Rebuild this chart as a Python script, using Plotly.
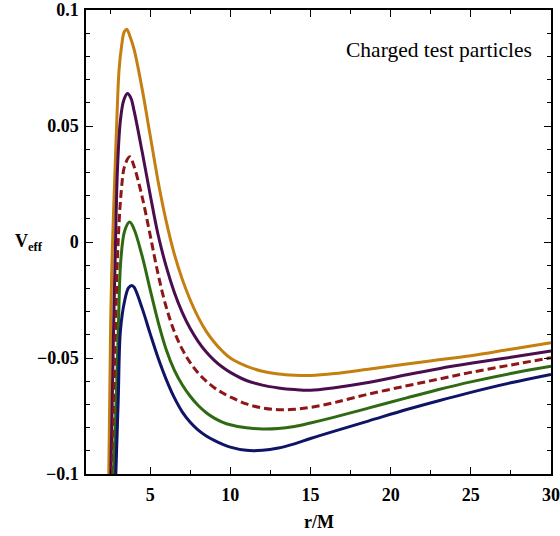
import plotly.graph_objects as go

# ---- data ----
x_orange = [2.42, 2.54, 2.64, 2.81, 2.92, 3.06, 3.23, 3.38, 3.54, 3.75, 4.0, 4.5, 5.0, 5.5, 6.0, 6.5, 7.0, 7.5, 8.0, 8.5, 9.0, 9.5, 10.0, 11.0, 12.0, 13.0, 14.0, 15.0, 16.5, 18.6, 21.0, 23.0, 25.0, 27.5, 30.0]
y_orange = [-0.1, -0.034, -0.004, 0.031, 0.052, 0.074, 0.085, 0.0905, 0.0917, 0.0885, 0.083, 0.066, 0.046, 0.026, 0.009, -0.005, -0.016, -0.025, -0.0325, -0.0385, -0.0432, -0.047, -0.050, -0.0535, -0.0557, -0.0569, -0.0574, -0.0575, -0.0567, -0.0548, -0.0526, -0.0508, -0.049, -0.0462, -0.0434]

x_purple = [2.55, 2.73, 2.83, 2.96, 3.14, 3.35, 3.59, 3.8, 4.0, 4.5, 5.0, 5.5, 6.0, 6.5, 7.0, 7.5, 8.0, 8.5, 9.0, 9.5, 10.0, 11.0, 12.0, 13.0, 14.0, 15.0, 16.5, 18.6, 21.0, 23.0, 25.0, 27.5, 30.0]
y_purple = [-0.1, -0.034, -0.004, 0.031, 0.052, 0.061, 0.064, 0.062, 0.0565, 0.039, 0.0205, 0.003, -0.0105, -0.0215, -0.0303, -0.0373, -0.0429, -0.0474, -0.051, -0.0539, -0.0562, -0.0597, -0.0617, -0.0629, -0.0636, -0.0639, -0.0628, -0.0606, -0.0572, -0.0546, -0.0523, -0.0497, -0.047]

x_dashed = [2.64, 2.86, 2.98, 3.2, 3.42, 3.73, 4.0, 4.5, 5.0, 5.5, 6.0, 6.5, 7.0, 7.5, 8.0, 8.5, 9.0, 9.5, 10.0, 11.0, 12.0, 13.0, 14.0, 15.0, 16.5, 18.6, 21.0, 23.0, 25.0, 27.5, 30.0]
y_dashed = [-0.1, -0.034, -0.004, 0.022, 0.033, 0.0367, 0.0325, 0.0195, 0.003, -0.014, -0.028, -0.0385, -0.0462, -0.052, -0.0565, -0.060, -0.0628, -0.065, -0.0668, -0.0698, -0.0715, -0.0723, -0.0721, -0.0713, -0.0692, -0.0656, -0.062, -0.0591, -0.0562, -0.053, -0.0499]

x_green = [2.73, 2.92, 3.03, 3.17, 3.42, 3.73, 4.0, 4.5, 5.0, 5.5, 6.0, 6.5, 7.0, 7.5, 8.0, 8.5, 9.0, 9.5, 10.0, 11.0, 12.0, 13.0, 14.0, 15.0, 16.5, 18.6, 21.0, 23.0, 25.0, 27.5, 30.0]
y_green = [-0.1, -0.06, -0.034, -0.008, 0.005, 0.0086, 0.0055, -0.006, -0.0205, -0.0345, -0.0463, -0.0551, -0.0615, -0.0665, -0.0705, -0.0736, -0.0759, -0.0776, -0.0788, -0.0801, -0.0806, -0.0804, -0.0795, -0.078, -0.0755, -0.0716, -0.0672, -0.0636, -0.0603, -0.0567, -0.0536]

x_blue = [2.86, 3.01, 3.15, 3.42, 3.65, 3.86, 4.0, 4.5, 5.0, 5.5, 6.0, 6.5, 7.0, 7.5, 8.0, 8.5, 9.0, 9.5, 10.0, 11.0, 12.0, 13.0, 14.0, 15.0, 16.5, 18.6, 21.0, 23.0, 25.0, 27.5, 30.0]
y_blue = [-0.1, -0.068, -0.038, -0.025, -0.0198, -0.0187, -0.0195, -0.0285, -0.0395, -0.050, -0.0592, -0.067, -0.0732, -0.0777, -0.0811, -0.0836, -0.0855, -0.0871, -0.0884, -0.0898, -0.0898, -0.0888, -0.087, -0.0847, -0.0815, -0.0772, -0.0722, -0.0684, -0.0648, -0.0607, -0.0571]

x_ticks = [5, 10, 15, 20, 25, 30]
y_ticks = [-0.1, -0.05, 0, 0.05, 0.1]
y_tick_text = ["\u22120.1", "\u22120.05", "0", "0.05", "0.1"]

series = [
    (x_orange, y_orange, "#C47F10", "solid"),
    (x_purple, y_purple, "#4A0D4E", "solid"),
    (x_dashed, y_dashed, "#8E1616", "8px,4px"),
    (x_green, y_green, "#2E6A12", "solid"),
    (x_blue, y_blue, "#0F1466", "solid"),
]

fig = go.Figure()
for xs, ys, col, dash in series:
    fig.add_trace(go.Scatter(x=xs, y=ys, mode="lines",
                             line=dict(color=col, width=3, dash=dash, shape="spline", smoothing=1.0),
                             showlegend=False, hoverinfo="skip"))

tickfont = dict(family="Liberation Serif", size=18, color="black", weight="bold")

fig.update_layout(
    width=560, height=536,
    margin=dict(l=86, r=9, t=10, b=62, autoexpand=False),
    paper_bgcolor="white", plot_bgcolor="white",
    xaxis=dict(range=[1, 30], tickmode="array", tickvals=x_ticks, automargin=False,
               ticks="inside", ticklen=7, tickwidth=1, tickcolor="black",
               minor=dict(ticks="inside", ticklen=4, tickmode="linear", tick0=0, dtick=2.5, tickcolor="black", tickwidth=1),
               showline=True, linecolor="black", linewidth=1.5, mirror="ticks",
               showgrid=False, zeroline=False, tickfont=tickfont, ticklabelstandoff=4),
    yaxis=dict(range=[-0.1, 0.1], tickmode="array", tickvals=y_ticks, ticktext=y_tick_text, automargin=False,
               ticks="inside", ticklen=7, tickwidth=1, tickcolor="black",
               minor=dict(ticks="inside", ticklen=4, tickmode="linear", tick0=0, dtick=0.01, tickcolor="black", tickwidth=1),
               showline=True, linecolor="black", linewidth=1.5, mirror="ticks",
               showgrid=False, zeroline=False, tickfont=tickfont, ticklabelstandoff=2),
    annotations=[
        dict(text="Charged test particles", xref="paper", yref="paper", x=0.555, y=0.914,
             xanchor="left", yanchor="middle", showarrow=False,
             font=dict(family="Liberation Serif", size=21.5, color="black")),
        dict(text="<b>r/M</b>", xref="paper", yref="paper", x=0.5, y=-0.103,
             xanchor="center", yanchor="middle", showarrow=False,
             font=dict(family="Liberation Serif", size=18, color="black")),
        dict(text="<b>V<sub>eff</sub></b>", xref="paper", yref="paper", x=-0.158, y=0.5,
             xanchor="left", yanchor="middle", showarrow=False,
             font=dict(family="Liberation Serif", size=18, color="black")),
    ],
)

fig.write_html("out.html")
